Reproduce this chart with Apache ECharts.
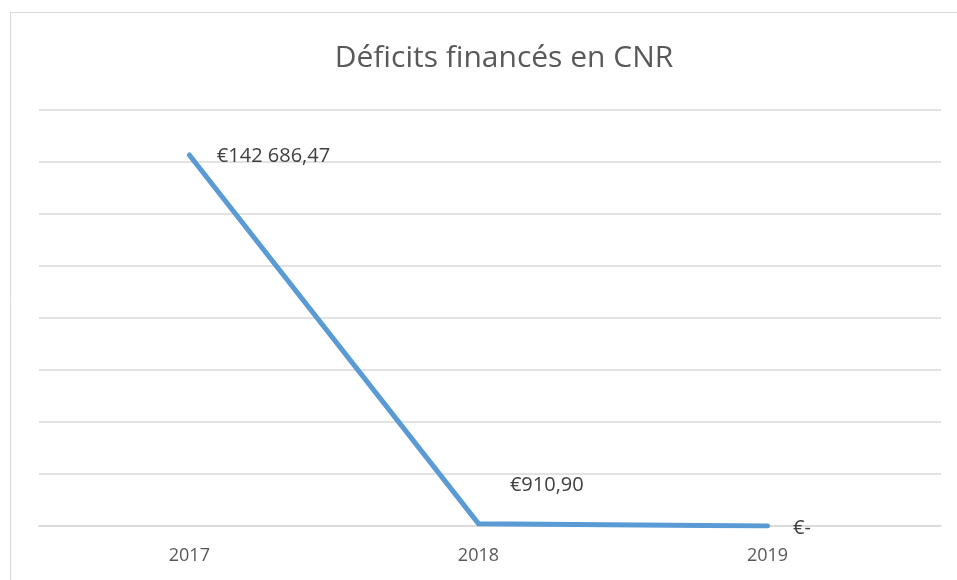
<!DOCTYPE html>
<html>
<head>
<meta charset="utf-8">
<script src="https://cdn.jsdelivr.net/npm/echarts@6/dist/echarts.min.js"></script>
<style>
  html, body { margin: 0; padding: 0; background: #fff; }
  #chart { width: 957px; height: 580px; }
</style>
</head>
<body>
<div id="chart"></div>
<script>
// données du graphique
const years = [2017, 2018, 2019];
const deficits = [142686.47, 910.90, 0];
const yTicks = [0, 20000, 40000, 60000, 80000, 100000, 120000, 140000, 160000];

// format "€142 686,47" / "€-" comme dans Excel
function euro(v) {
  if (!v) return "€-";
  const parts = v.toFixed(2).split(".");
  const ent = parts[0].replace(/\B(?=(\d{3})+(?!\d))/g, " ");
  return "€" + ent + "," + parts[1];
}

// décalages des étiquettes (style seulement)
const labelOffsets = [[22, 1], [26, -38], [20, 2]];

const chart = echarts.init(document.getElementById("chart"));

const option = {
  animation: false,
  title: {
    text: "Déficits financés en CNR",
    left: 499,
    top: 38,
    textAlign: "center",
    textStyle: {
      fontFamily: "Open Sans",
      fontWeight: "normal",
      fontSize: 30,
      color: "#595959",
    },
  },
  graphic: [
    {
      type: "rect",
      shape: { x: 10.5, y: 12.5, width: 960, height: 600 },
      style: { fill: "none", stroke: "#d9d9d9", lineWidth: 1 },
      silent: true,
    },
  ],
  grid: { left: 39, right: 16, top: 110, bottom: 54 },
  xAxis: {
    type: "value",
    min: 2016.48,
    max: 2019.6,
    splitLine: { show: false },
    axisTick: { show: false },
    axisLine: { show: true, lineStyle: { color: "#d9d9d9", width: 1.5 } },
    axisLabel: {
      customValues: years,
      formatter: (v) => String(v),
      color: "#595959",
      fontFamily: "Open Sans",
      fontSize: 18,
      margin: 21,
    },
  },
  yAxis: {
    type: "value",
    min: yTicks[0],
    max: yTicks[yTicks.length - 1],
    interval: yTicks[1] - yTicks[0],
    axisLabel: { show: false },
    axisTick: { show: false },
    axisLine: { show: false },
    splitLine: { lineStyle: { color: "#d9d9d9", width: 1.5 } },
  },
  series: [
    {
      type: "line",
      data: years.map((y, i) => ({
        value: [y, deficits[i]],
        label: { offset: labelOffsets[i] },
      })),
      showSymbol: true,
      symbol: "circle",
      symbolSize: 1,
      itemStyle: { color: "rgba(0,0,0,0)" },
      lineStyle: { color: "#5b9bd5", width: 5, cap: "round", join: "round" },
      label: {
        show: true,
        position: "right",
        formatter: (p) => euro(p.value[1]),
        color: "#404040",
        fontFamily: "Open Sans",
        fontSize: 20,
      },
    },
  ],
};

chart.setOption(option);
</script>
</body>
</html>
